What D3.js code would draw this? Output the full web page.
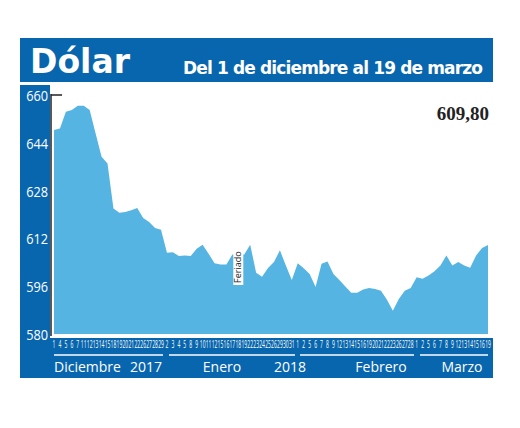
<!DOCTYPE html>
<html><head><meta charset="utf-8">
<script src="https://cdn.jsdelivr.net/npm/d3@7"></script>
<style>body{margin:0;background:#fff}</style>
</head><body>
<svg id="c" width="520" height="428"></svg>
<script>
const months = ["Diciembre", "Enero", "Febrero", "Marzo"];
const days = [
  [1,4,5,6,7,11,12,13,14,15,18,19,20,21,22,26,27,28,29],
  [2,3,4,5,8,9,10,11,12,15,16,17,18,19,22,23,24,25,26,29,30,31],
  [1,2,5,6,7,8,9,12,13,14,15,16,19,20,21,22,23,26,27,28],
  [1,2,5,6,7,8,9,12,13,14,15,16,19]
];
const values = [
  648.3,648.8,654.4,655,656.4,656.4,655,647.1,639.3,637.1,622,620.6,620.8,621.4,622.2,618.8,617.5,615.5,614.9,
  607.2,607.4,606.1,606.3,606.1,608.5,609.9,606.9,603.7,603.3,603.3,606.6,606.6,606.6,609.9,600.5,599.2,602.1,604.1,608,602.9,598.1,
  603.7,602,600.1,595.7,603.5,604.3,600.1,598.1,595.9,593.8,593.8,594.9,595.4,595.1,594.5,591.5,587.8,591.7,594.5,595.4,
  599,598.5,599.6,601,602.9,606.3,602.9,604.1,602.9,602.2,606.3,608.8,609.8
];
const yTicks = [580,596,612,628,644,660];

const labels = [];
days.forEach((ds, m) => ds.forEach(d => labels.push({m, d})));
const data = labels.map((l, i) => ({...l, i, v: values[i]}));

const svg = d3.select("#c");
const blue = "#0866ae";
const serif = "'Liberation Serif', serif";
const sans = "'Open Sans', 'DejaVu Sans', sans-serif";

// frame
svg.append("rect").attr("x",20).attr("y",38).attr("width",473).attr("height",44).attr("fill",blue);
svg.append("rect").attr("x",20).attr("y",85).attr("width",30).attr("height",293).attr("fill",blue);
svg.append("rect").attr("x",20).attr("y",338).attr("width",473).attr("height",40).attr("fill",blue);
svg.append("text").attr("x",30).attr("y",73).attr("fill","#fff").attr("font-family","'DejaVu Sans', sans-serif")
  .attr("font-weight","bold").attr("font-size",33).text("Dólar");
svg.append("text").attr("x",483).attr("y",74).attr("text-anchor","end").attr("fill","#fff")
  .attr("font-family","'DejaVu Sans', sans-serif").attr("font-weight","bold").attr("font-size",17)
  .attr("textLength",300).text("Del 1 de diciembre al 19 de marzo");

const x = d3.scaleLinear().domain([0, data.length - 1]).range([54, 488]);
const y = d3.scaleLinear().domain([580, 660]).range([334, 95]);

svg.append("path").datum(data)
  .attr("fill", "#56b4e3")
  .attr("d", d3.area().x(d => x(d.i)).y0(y(580)).y1(d => y(d.v)));

// axes lines
svg.append("line").attr("x1",51).attr("x2",51).attr("y1",94).attr("y2",336).attr("stroke","#222").attr("stroke-width",1.5);
svg.append("line").attr("x1",51).attr("x2",62).attr("y1",y(660)).attr("y2",y(660)).attr("stroke","#222").attr("stroke-width",1.5);

svg.selectAll(".yt").data(yTicks).enter().append("text")
  .attr("transform", d => `translate(48,${y(d) + 6}) scale(0.85,1)`)
  .attr("text-anchor","end")
  .attr("fill","#fff").attr("font-family",sans).attr("font-size",15)
  .text(d => d);

// day labels (condensed)
svg.selectAll(".xt").data(data).enter().append("text")
  .attr("transform", d => `translate(${x(d.i)},348) scale(0.5,1)`)
  .attr("text-anchor","middle").attr("fill","#fff").attr("font-family",sans).attr("font-size",10)
  .text(d => d.d);

// month lines and names
const spans = [[54,163],[169,295],[300,414],[420,488]];
spans.forEach(s => svg.append("line").attr("x1",s[0]).attr("x2",s[1]).attr("y1",355).attr("y2",355)
  .attr("stroke","#fff").attr("stroke-width",1.5));
const mlab = [["Diciembre",54,"start"],["2017",162,"end"],["Enero",222,"middle"],["2018",290,"middle"],["Febrero",381,"middle"],["Marzo",462,"middle"]];
mlab.forEach(m => svg.append("text").attr("x",m[1]).attr("y",372).attr("text-anchor",m[2])
  .attr("fill","#fff").attr("font-family",sans).attr("font-size",14).text(m[0]));

// Feriado note
const fi = 31;
svg.append("rect").attr("x",x(fi)-5).attr("y",240).attr("width",10).attr("height",45).attr("fill","#fff");
svg.append("text").attr("transform",`translate(${x(fi)+3},283) rotate(-90)`)
  .attr("font-family",sans).attr("font-size",9).attr("fill","#222").text("Feriado");

svg.append("text").attr("x",489).attr("y",120).attr("text-anchor","end").attr("font-family",serif)
  .attr("font-weight","bold").attr("font-size",19).attr("fill","#222").text("609,80");
</script>
</body></html>
